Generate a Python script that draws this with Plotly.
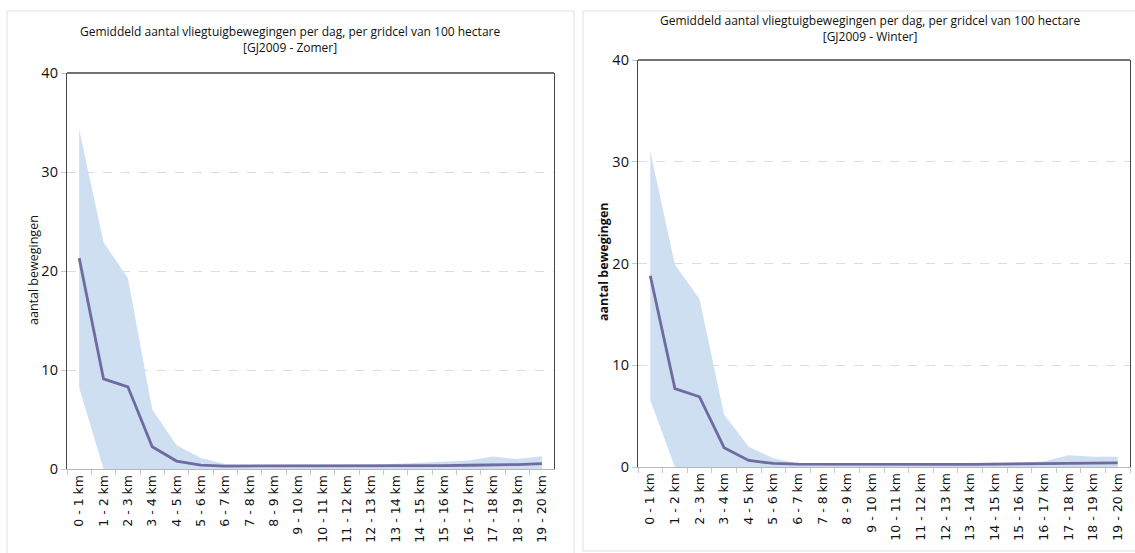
import plotly.graph_objects as go

categories = [f"{i} - {i+1} km" for i in range(20)]

zomer_mean = [21.3, 9.1, 8.3, 2.25, 0.8, 0.4, 0.3, 0.3, 0.3, 0.28, 0.28, 0.28, 0.28, 0.3, 0.32, 0.35, 0.38, 0.4, 0.45, 0.55]
zomer_upper = [34.3, 22.9, 19.3, 6.0, 2.4, 1.1, 0.5, 0.4, 0.4, 0.38, 0.38, 0.38, 0.4, 0.5, 0.6, 0.7, 0.85, 1.25, 1.0, 1.3]
zomer_lower = [8.2, 0, 0, 0, 0, 0, 0, 0, 0, 0, 0, 0, 0, 0, 0, 0, 0, 0, 0, 0]

winter_mean = [18.8, 7.7, 6.9, 1.9, 0.65, 0.35, 0.28, 0.27, 0.26, 0.25, 0.22, 0.2, 0.22, 0.25, 0.28, 0.3, 0.3, 0.35, 0.38, 0.4]
winter_upper = [31.0, 19.9, 16.5, 5.15, 2.0, 0.85, 0.35, 0.33, 0.32, 0.3, 0.3, 0.3, 0.35, 0.38, 0.42, 0.45, 0.55, 1.15, 1.0, 1.0]
winter_lower = [6.55, 0, 0, 0, 0, 0, 0, 0, 0, 0, 0, 0, 0, 0, 0, 0, 0, 0, 0, 0]

titles = ["Gemiddeld aantal vliegtuigbewegingen per dag, per gridcel van 100 hectare<br>[GJ2009 - Zomer]",
          "Gemiddeld aantal vliegtuigbewegingen per dag, per gridcel van 100 hectare<br>[GJ2009 - Winter]"]
y_title = "aantal bewegingen"
y_ticks = [0, 10, 20, 30, 40]

W, H = 1135, 553
FONT = "Open Sans"
TICKFONT = "DejaVu Sans"
BAND = "#cfdff2"
LINE = "#6f6a9f"

fig = go.Figure()

panels = [
    dict(mean=zomer_mean, up=zomer_upper, lo=zomer_lower, xa="x", ya="y"),
    dict(mean=winter_mean, up=winter_upper, lo=winter_lower, xa="x2", ya="y2"),
]
for p in panels:
    fig.add_trace(go.Scatter(x=categories, y=p["lo"], xaxis=p["xa"], yaxis=p["ya"], mode="lines",
                             line=dict(width=0, color=BAND), hoverinfo="skip", showlegend=False))
    fig.add_trace(go.Scatter(x=categories, y=p["up"], xaxis=p["xa"], yaxis=p["ya"], mode="lines",
                             fill="tonexty", fillcolor=BAND, line=dict(width=0, color=BAND),
                             showlegend=False))
    fig.add_trace(go.Scatter(x=categories, y=p["mean"], xaxis=p["xa"], yaxis=p["ya"], mode="lines",
                             line=dict(width=2.8, color=LINE), showlegend=False))

def px(x):
    return x / W

def py(y):
    return 1 - y / H

# geometry (pixels)
L = dict(x0=67, x1=554, ytop=73, ybot=469)
R = dict(x0=638, x1=1130, ytop=60, ybot=467)

xcommon = dict(type="category", range=[-0.5, 19.5], tickangle=-90, tickson="boundaries",
               ticks="outside", ticklen=5, tickcolor="#c8c8c8", showline=True, linecolor="#b8b8b8",
               linewidth=1, showgrid=False, tickfont=dict(family=TICKFONT, size=12.5, color="#111"),
               zeroline=False, automargin=False)
ycommon = dict(range=[0, 40], tickvals=y_ticks, ticks="outside", ticklen=5, tickcolor="#c8c8c8",
               showline=True, linecolor="#444", linewidth=1.3, mirror=True,
               showgrid=True, gridcolor="#dcdcdc", griddash="dash", gridwidth=1, zeroline=False,
               tickfont=dict(family=FONT, size=14.5, color="#111"), automargin=False)

fig.update_layout(
    width=W, height=H, margin=dict(l=0, r=0, t=0, b=0, autoexpand=False),
    paper_bgcolor="white", plot_bgcolor="white",
    xaxis=dict(xcommon, domain=[px(L["x0"]), px(L["x1"])], anchor="y"),
    yaxis=dict(ycommon, domain=[py(L["ybot"]), py(L["ytop"])], anchor="x"),
    xaxis2=dict(xcommon, domain=[px(R["x0"]), px(R["x1"])], anchor="y2"),
    yaxis2=dict(ycommon, domain=[py(R["ybot"]), py(R["ytop"])], anchor="x2"),
)

# top border of each plot
for xr, yr in [("x domain", "y domain"), ("x2 domain", "y2 domain")]:
    fig.add_shape(type="line", xref=xr, yref=yr, x0=0, x1=1, y0=1, y1=1,
                  line=dict(color="#444", width=1.3))

# panel cards
fig.add_shape(type="rect", xref="paper", yref="paper", x0=px(7), x1=px(574), y0=py(560), y1=py(11),
              line=dict(color="#e0e0e0", width=1), layer="below")
fig.add_shape(type="rect", xref="paper", yref="paper", x0=px(583), x1=px(1140), y0=py(551), y1=py(11),
              line=dict(color="#e0e0e0", width=1), layer="below")

# titles
fig.add_annotation(text=titles[0], xref="paper", yref="paper", x=px(290), y=py(39), showarrow=False,
                   xanchor="center", yanchor="middle",
                   font=dict(family=FONT, size=12, color="#111"), align="center")
fig.add_annotation(text=titles[1], xref="paper", yref="paper", x=px(870), y=py(29), showarrow=False,
                   xanchor="center", yanchor="middle",
                   font=dict(family=FONT, size=12, color="#111"), align="center")

# y-axis titles
fig.add_annotation(text=y_title, xref="paper", yref="paper", x=px(33), y=py(270), showarrow=False,
                   xanchor="center", yanchor="middle",
                   textangle=-90, font=dict(family=FONT, size=12.5, color="#111"))
fig.add_annotation(text="<b>" + y_title + "</b>", xref="paper", yref="paper", x=px(603), y=py(262),
                   xanchor="center", yanchor="middle",
                   showarrow=False, textangle=-90, font=dict(family=FONT, size=12.5, color="#111"))

fig.write_html("out.html", config={"displayModeBar": False},
               post_script="document.body.style.margin='0';document.body.style.overflow='hidden';")
